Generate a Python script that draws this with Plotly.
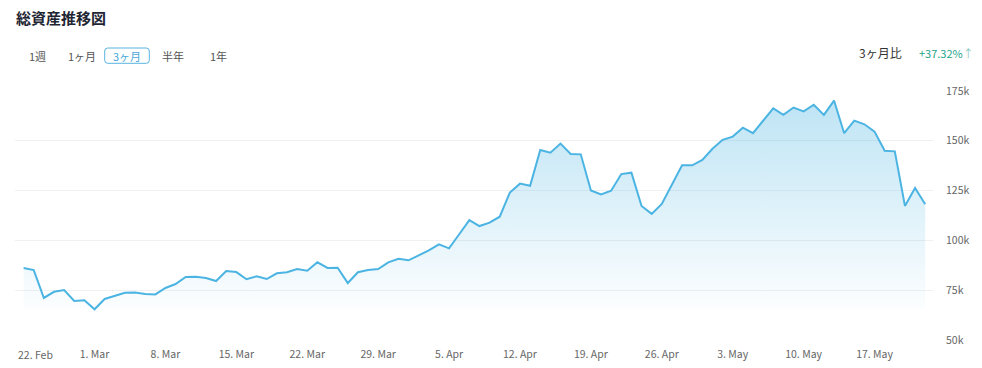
import pandas as pd
import plotly.graph_objects as go

# ---- data ----
start_date = "2021-02-22"
values_k = [86.1, 85.1, 71.1, 74.2, 75.1, 69.6, 69.9, 65.4, 70.6, 72.2,
            73.7, 73.9, 73.1, 72.9, 76.1, 78.1, 81.6, 81.8, 81.1, 79.6,
            84.6, 84.1, 80.5, 82.0, 80.6, 83.5, 84.0, 85.6, 84.8, 89.0,
            86.2, 86.3, 78.6, 84.0, 85.1, 85.6, 89.0, 90.8, 90.0, 92.5,
            95.0, 98.0, 96.0, 103.1, 110.2, 107.2, 108.9, 111.9, 124.0, 128.5,
            127.4, 145.4, 144.0, 148.6, 143.4, 143.2, 125.1, 123.1, 124.9, 133.3,
            134.0, 117.3, 113.3, 118.3, 128.2, 137.7, 137.7, 140.4, 146.0, 150.5,
            152.1, 156.6, 153.8, 160.1, 166.3, 163.0, 166.7, 164.8, 168.1, 163.0,
            170.2, 153.8, 160.1, 158.3, 154.6, 145.0, 144.7, 117.3, 126.3, 118.1]
x_tick_dates = ["2021-02-22", "2021-03-01", "2021-03-08", "2021-03-15", "2021-03-22",
                "2021-03-29", "2021-04-05", "2021-04-12", "2021-04-19", "2021-04-26",
                "2021-05-03", "2021-05-10", "2021-05-17"]
x_tick_labels = ["22. Feb", "1. Mar", "8. Mar", "15. Mar", "22. Mar", "29. Mar", "5. Apr",
                 "12. Apr", "19. Apr", "26. Apr", "3. May", "10. May", "17. May"]
y_tick_vals = [50000, 75000, 100000, 125000, 150000, 175000]
y_tick_labels = ["50k", "75k", "100k", "125k", "150k", "175k"]
period_buttons = ["1週", "1ヶ月", "3ヶ月", "半年", "1年"]
selected_button = "3ヶ月"
compare_label = "3ヶ月比"
compare_value = "+37.32%"
title_text = "総資産推移図"

# ---- build ----
values = [v * 1000 for v in values_k]
dates = pd.date_range(start_date, periods=len(values), freq="D")
base = min(values)

LINE = "#4bb4e2"
FONT = "Noto Sans CJK JP, Noto Sans, sans-serif"

fig = go.Figure()
fig.add_trace(go.Scatter(x=dates, y=[base] * len(values), mode="lines",
                         line=dict(width=0), hoverinfo="skip", showlegend=False))
fig.add_trace(go.Scatter(
    x=dates, y=values, mode="lines", line=dict(color=LINE, width=2),
    fill="tonexty",
    fillgradient=dict(type="vertical",
                      colorscale=[[0, "rgba(75,180,226,0.015)"], [1, "rgba(75,180,226,0.36)"]],
                      start=base, stop=max(values)),
    showlegend=False))

# plot area in pixels: x 15..933, y 91..340
W, H = 982, 368
L, R, T, B = 15, 49, 91, 28
pw, ph = W - L - R, H - T - B

def px(x):
    return (x - L) / pw

def py(y):
    return (H - B - y) / ph

x0 = dates[0] - pd.Timedelta(days=0.85)
x1 = dates[0] + pd.Timedelta(days=89.77)

# first label is justified to stay inside the chart (drawn as an annotation)
tick_text = [""] + x_tick_labels[1:]

fig.update_layout(
    width=W, height=H,
    margin=dict(l=L, r=R, t=T, b=B),
    paper_bgcolor="white", plot_bgcolor="white",
    font=dict(family=FONT, color="#666666", size=10.5),
    xaxis=dict(type="date", range=[x0, x1], tickvals=x_tick_dates, ticktext=tick_text,
               showgrid=False, zeroline=False, showline=False, ticks="",
               automargin=False,
               ticklabelstandoff=6, tickfont=dict(size=10.5, color="#666666")),
    yaxis=dict(range=[50000, 175000], side="right", tickvals=y_tick_vals,
               ticktext=y_tick_labels, showgrid=True, gridcolor="#f0f0f0",
               gridwidth=1, zeroline=False, showline=False, ticks="",
               automargin=False,
               ticklabelstandoff=12, tickfont=dict(size=10.5, color="#666666")),
    hovermode="x",
)

annotations = [
    dict(text=x_tick_labels[0], x=x_tick_dates[0], xref="x", y=py(354.5), yref="paper",
         xanchor="left", yanchor="middle", xshift=-8, showarrow=False,
         font=dict(size=10.5, color="#666666", family=FONT)),
    dict(text=f"<b>{title_text}</b>", x=px(14), y=py(18), xref="paper", yref="paper",
         xanchor="left", yanchor="middle", showarrow=False,
         font=dict(size=15, color="#1f2633", family=FONT)),
    dict(text=compare_label, x=px(904), y=py(52), xref="paper", yref="paper",
         xanchor="right", yanchor="middle", showarrow=False,
         font=dict(size=12, color="#333333", family=FONT)),
    dict(text=f'{compare_value}<span style="color:#8cc9bd">↑</span>', x=px(917), y=py(53),
         xref="paper", yref="paper", xanchor="left", yanchor="middle", showarrow=False,
         font=dict(size=11, color="#1ea48c", family=FONT)),
]
btn_centers = [37, 81.5, 127, 173, 218]
for label, cx in zip(period_buttons, btn_centers):
    sel = label == selected_button
    annotations.append(dict(text=label, x=px(cx), y=py(56), xref="paper", yref="paper",
                            xanchor="center", yanchor="middle", showarrow=False,
                            font=dict(size=11, color="#4aa8d8" if sel else "#555555",
                                      family=FONT)))
fig.update_layout(annotations=annotations)

# rounded box around the selected button
bx0, bx1, by0, by1, r = 104.7, 149.3, 48, 63.3, 3
rx, ry = r / pw, r / ph
X0, X1, Y0, Y1 = px(bx0), px(bx1), py(by1), py(by0)
path = (f"M {X0+rx},{Y0} L {X1-rx},{Y0} Q {X1},{Y0} {X1},{Y0+ry} "
        f"L {X1},{Y1-ry} Q {X1},{Y1} {X1-rx},{Y1} L {X0+rx},{Y1} "
        f"Q {X0},{Y1} {X0},{Y1-ry} L {X0},{Y0+ry} Q {X0},{Y0} {X0+rx},{Y0} Z")
fig.add_shape(type="path", path=path, xref="paper", yref="paper",
              line=dict(color="#5ab4e0", width=1))

fig.write_html("out.html")
